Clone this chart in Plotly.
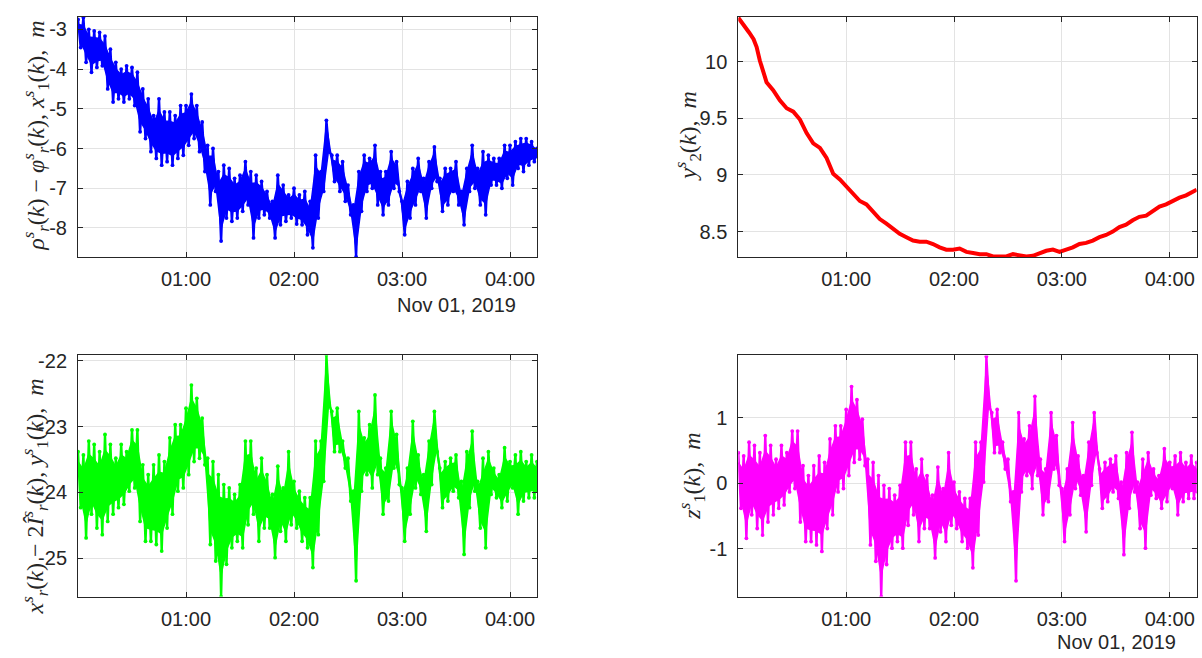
import pandas as pd
import plotly.graph_objects as go

# ---------------- data ----------------
# noisy series: upper / lower excursions read every 3 minutes (lower at +1.5 min)
blue_hi = [-2.75, -2.70, -3.00, -3.04, -3.08, -3.17, -3.50, -3.83, -4.00, -3.92,
           -3.96, -4.08, -4.50, -4.75, -5.17, -4.75, -5.08, -5.08, -5.17, -4.92,
           -4.92, -4.63, -4.92, -5.33, -5.92, -6.00, -6.58, -6.42, -6.50, -6.75,
           -6.67, -6.33, -6.58, -6.67, -6.83, -7.08, -7.33, -6.67, -6.92, -7.17,
           -7.00, -7.17, -7.08, -7.33, -6.17, -6.58, -5.29, -6.17, -6.17, -6.33,
           -6.92, -7.42, -6.58, -6.17, -6.25, -5.92, -6.58, -6.58, -6.08, -6.33,
           -7.33, -6.83, -6.50, -6.25, -6.75, -6.33, -5.96, -6.75, -6.50, -6.50,
           -6.33, -7.08, -6.50, -5.92, -6.50, -6.08, -6.17, -6.25, -6.25, -5.92,
           -5.92, -5.83, -5.75, -5.75, -5.83, -6.00]
blue_lo = [-3.46, -3.83, -4.08, -3.96, -3.92, -4.50, -4.83, -4.75, -4.83, -4.75,
           -4.92, -5.58, -5.75, -6.08, -6.25, -6.42, -6.33, -6.42, -6.25, -6.17,
           -5.92, -5.75, -6.08, -6.58, -7.42, -7.08, -8.33, -7.75, -7.83, -7.75,
           -7.58, -7.42, -8.25, -7.75, -7.67, -7.75, -8.25, -7.92, -7.83, -7.75,
           -7.90, -7.92, -8.17, -8.50, -7.75, -7.08, -6.08, -6.83, -7.08, -7.33,
           -7.67, -8.73, -7.58, -7.08, -7.00, -7.42, -7.67, -7.42, -7.00, -7.08,
           -8.17, -7.75, -7.42, -7.08, -7.75, -7.00, -6.83, -7.58, -7.42, -7.08,
           -7.42, -7.92, -7.08, -7.00, -7.42, -7.67, -6.92, -6.92, -7.00, -6.75,
           -6.92, -6.50, -6.58, -6.42, -6.33, -6.25]

green_hi = [-23.38, -23.43, -23.22, -23.27, -23.38, -23.12, -23.27, -23.48, -23.27, -23.38,
            -23.05, -23.05, -23.58, -23.73, -23.58, -23.43, -23.53, -23.17, -22.97, -22.97,
            -22.72, -22.37, -22.57, -22.87, -23.48, -23.53, -23.73, -23.88, -23.93, -24.03,
            -23.88, -23.22, -23.22, -23.63, -23.48, -23.73, -24.03, -23.60, -23.93, -23.38,
            -23.83, -23.98, -24.08, -24.08, -23.22, -23.22, -21.91, -22.77, -22.72, -23.22,
            -23.48, -23.98, -22.77, -23.17, -22.97, -22.52, -23.48, -23.63, -22.77, -23.12,
            -23.93, -23.63, -22.92, -23.43, -23.73, -23.22, -22.77, -23.63, -23.53, -23.48,
            -23.43, -23.83, -23.38, -23.07, -23.83, -23.48, -23.38, -23.63, -23.73, -23.32,
            -23.53, -23.43, -23.38, -23.53, -23.43, -23.53]
green_lo = [-24.23, -24.69, -24.33, -24.54, -24.64, -24.44, -24.33, -24.23, -24.18, -23.98,
            -23.93, -24.44, -24.74, -24.74, -24.79, -24.89, -24.54, -24.33, -23.98, -23.93,
            -23.73, -23.53, -23.48, -23.58, -24.79, -25.04, -25.58, -25.09, -24.84, -24.74,
            -24.84, -24.49, -24.33, -24.74, -24.54, -24.54, -24.99, -24.59, -24.74, -24.49,
            -24.54, -24.74, -24.84, -25.14, -24.64, -23.83, -22.67, -23.38, -23.38, -23.63,
            -24.13, -25.34, -23.98, -23.73, -23.93, -23.73, -24.33, -24.13, -23.63, -23.88,
            -24.74, -24.33, -23.93, -24.03, -24.59, -23.88, -23.38, -24.23, -24.13, -23.98,
            -24.08, -24.94, -24.23, -23.98, -24.54, -24.84, -24.03, -24.08, -24.23, -24.13,
            -23.93, -24.33, -24.13, -24.08, -24.08, -24.13]

magenta_hi = [0.47, 0.42, 0.63, 0.58, 0.47, 0.73, 0.58, 0.37, 0.58, 0.47,
              0.80, 0.80, 0.27, 0.12, 0.27, 0.42, 0.32, 0.68, 0.88, 0.88,
              1.13, 1.48, 1.28, 0.98, 0.37, 0.32, 0.12, -0.03, -0.08, -0.18,
              -0.03, 0.63, 0.63, 0.22, 0.37, 0.12, -0.18, 0.25, -0.08, 0.47,
              0.02, -0.13, -0.23, -0.23, 0.63, 0.63, 1.94, 1.08, 1.13, 0.63,
              0.37, -0.13, 1.08, 0.68, 0.88, 1.33, 0.37, 0.22, 1.08, 0.73,
              -0.08, 0.22, 0.93, 0.42, 0.12, 0.63, 1.08, 0.22, 0.32, 0.37,
              0.42, 0.02, 0.47, 0.78, 0.02, 0.37, 0.47, 0.22, 0.12, 0.53,
              0.32, 0.42, 0.47, 0.32, 0.42, 0.32]
magenta_lo = [-0.38, -0.84, -0.48, -0.69, -0.79, -0.59, -0.48, -0.38, -0.33, -0.13,
              -0.08, -0.59, -0.89, -0.89, -0.94, -1.04, -0.69, -0.48, -0.13, -0.08,
              0.12, 0.32, 0.37, 0.27, -0.94, -1.19, -1.73, -1.24, -0.99, -0.89,
              -0.99, -0.64, -0.48, -0.89, -0.69, -0.69, -1.14, -0.74, -0.89, -0.64,
              -0.69, -0.89, -0.99, -1.29, -0.79, 0.02, 1.18, 0.47, 0.47, 0.22,
              -0.28, -1.49, -0.13, 0.12, -0.08, 0.12, -0.48, -0.28, 0.22, -0.03,
              -0.89, -0.48, -0.08, -0.18, -0.74, -0.03, 0.47, -0.38, -0.28, -0.13,
              -0.23, -1.09, -0.38, -0.13, -0.69, -0.99, -0.18, -0.23, -0.38, -0.28,
              -0.08, -0.48, -0.28, -0.23, -0.23, -0.28]

red_minutes = [0, 3, 6, 8.5, 10.2, 12, 13.9, 15.7, 19.4, 23.1, 26.9, 30.6, 34.3, 38,
               41.7, 45.4, 49.1, 52.8, 56.5, 60.2, 63.9, 67.6, 71.3, 75, 78.7, 82.4,
               86.1, 89.8, 93.5, 97.2, 100.9, 104.6, 108.3, 112, 115.7, 119.4, 123.1,
               126.9, 130.6, 134.3, 138, 141.7, 145.4, 149.1, 152.8, 156.5, 160.2,
               163.9, 167.6, 171.3, 175, 178.7, 182.4, 186.1, 189.8, 193.5, 197.2,
               200.9, 204.6, 208.3, 212, 215.7, 219.4, 223.1, 226.9, 230.6, 234.3,
               238, 241.7, 245.4, 249.1, 252.8, 255]
red_vals = [10.39, 10.33, 10.26, 10.20, 10.13, 10.01, 9.91, 9.82, 9.75, 9.66, 9.59,
            9.56, 9.49, 9.37, 9.28, 9.24, 9.15, 9.01, 8.96, 8.90, 8.83, 8.77, 8.74,
            8.67, 8.61, 8.57, 8.52, 8.48, 8.45, 8.42, 8.41, 8.41, 8.39, 8.36, 8.34,
            8.34, 8.35, 8.32, 8.31, 8.30, 8.30, 8.28, 8.28, 8.28, 8.30, 8.29, 8.28,
            8.285, 8.31, 8.33, 8.34, 8.32, 8.34, 8.36, 8.39, 8.40, 8.42, 8.45, 8.47,
            8.50, 8.54, 8.56, 8.60, 8.63, 8.64, 8.68, 8.72, 8.74, 8.77, 8.80, 8.82,
            8.85, 8.87]

assert len(red_minutes) == len(red_vals)
for a, b in [(blue_hi, blue_lo), (green_hi, green_lo), (magenta_hi, magenta_lo)]:
    assert len(a) == len(b) == 86

START = pd.Timestamp("2019-11-01 00:00:00")
X_RANGE = [START, START + pd.Timedelta(minutes=255)]
tick_vals = [START + pd.Timedelta(hours=h) for h in (1, 2, 3, 4)]
tick_text = ["01:00", "02:00", "03:00", "04:00"]
STEP = 3.0
CORE = 0.32   # share of each excursion drawn as the dense core of the dot cloud


def stamps(n, shift):
    return [START + pd.Timedelta(minutes=i * STEP + shift) for i in range(n)]


# ---------------- layout geometry (figure fills the whole 1202x658 page) ----------------
W, H = 1202, 658
def xd(a, b):
    return [a / W, b / W]
def yd(top, bot):
    return [1 - bot / H, 1 - top / H]

XL, XR = xd(78, 537), xd(738.3, 1196.7)
YT, YB = yd(10.7, 253.3), yd(352.7, 596)

AX = "#262626"
GRID = "#e3e3e3"
TICKFONT = dict(family="Liberation Sans, Arial, sans-serif", size=20, color=AX)

fig = go.Figure()

panels = [
    dict(n="", xdom=XL, ydom=YT, rng=[-8.73, -2.68], yt=[-8, -7, -6, -5, -4, -3], col="#0000ff"),
    dict(n="2", xdom=XR, ydom=YT, rng=[8.275, 10.40], yt=[8.5, 9, 9.5, 10], col="#ff0000"),
    dict(n="3", xdom=XL, ydom=YB, rng=[-25.58, -21.92], yt=[-25, -24, -23, -22], col="#00ff00"),
    dict(n="4", xdom=XR, ydom=YB, rng=[-1.73, 1.955], yt=[-1, 0, 1], col="#ff00ff"),
]
series = [(blue_hi, blue_lo), None, (green_hi, green_lo), (magenta_hi, magenta_lo)]

for p, s in zip(panels, series):
    xa, ya = "x" + p["n"], "y" + p["n"]
    c = p["col"]
    if s is None:
        t = [START + pd.Timedelta(minutes=m) for m in red_minutes]
        fig.add_trace(go.Scatter(x=t, y=red_vals, mode="lines", xaxis=xa, yaxis=ya,
                                 line=dict(color=c, width=4), showlegend=False,
                                 hoverinfo="skip"))
    else:
        hi, lo = s
        t_hi, t_lo = stamps(len(hi), 0.0), stamps(len(lo), STEP / 2)
        # dense core of the dot cloud around the middle of each excursion pair
        core_top = [(h + l) / 2 + CORE * (h - l) for h, l in zip(hi, lo)]
        core_bot = [(h + l) / 2 - CORE * (h - l) for h, l in zip(hi, lo)]
        fig.add_trace(go.Scatter(x=t_hi + t_lo[::-1], y=core_top + core_bot[::-1], mode="lines",
                                 fill="toself", fillcolor=c, xaxis=xa, yaxis=ya,
                                 line=dict(color=c, width=1.5), showlegend=False,
                                 hoverinfo="skip"))
        # the individual excursions as dots joined in time order
        tz, vz = [], []
        for a, b, h, l in zip(t_hi, t_lo, hi, lo):
            tz += [a, b]
            vz += [h, l]
        fig.add_trace(go.Scatter(x=tz, y=vz, mode="lines+markers", xaxis=xa, yaxis=ya,
                                 line=dict(color=c, width=2.4),
                                 marker=dict(color=c, size=3.8),
                                 showlegend=False, hoverinfo="skip"))
    common = dict(showline=True, linecolor=AX, linewidth=1, mirror="allticks",
                  ticks="inside", ticklen=5, tickwidth=1, tickcolor=AX,
                  showgrid=True, gridcolor=GRID, gridwidth=1, zeroline=False,
                  tickfont=TICKFONT)
    fig.layout["xaxis" + p["n"]] = dict(domain=p["xdom"], anchor=ya, type="date", range=X_RANGE,
                                        tickvals=tick_vals, ticktext=tick_text,
                                        ticklabelstandoff=4, **common)
    fig.layout["yaxis" + p["n"]] = dict(domain=p["ydom"], anchor=xa, range=p["rng"],
                                        tickvals=p["yt"], ticktext=["%g" % v for v in p["yt"]],
                                        ticklabelstandoff=6, **common)

NB = "\u00a0"
titles = [
    ("<i>ρ</i><sup><i>s</i></sup><sub><i>r</i></sub>(<i>k</i>) − <i>φ</i><sup><i>s</i></sup><sub><i>r</i></sub>(<i>k</i>), "
     "<i>x</i><sup><i>s</i></sup><sub>1</sub>(<i>k</i>)," + NB + NB + "<i>m</i>", 36, 131),
    ("<i>y</i><sup><i>s</i></sup><sub>2</sub>(<i>k</i>)," + NB + NB + "<i>m</i>", 688, 131),
    ("<i>x</i><sup><i>s</i></sup><sub><i>r</i></sub>(<i>k</i>) − 2<i>Î</i><sup><i>s</i></sup><sub><i>r</i></sub>(<i>k</i>), "
     "<i>y</i><sup><i>s</i></sup><sub>1</sub>(<i>k</i>)," + NB + NB + "<i>m</i>", 35, 495),
    ("<i>z</i><sup><i>s</i></sup><sub>1</sub>(<i>k</i>)," + NB + NB + "<i>m</i>", 692, 475),
]
ann = []
for txt, sx, sy in titles:
    ann.append(dict(text=txt, x=sx / W, y=1 - sy / H, xref="paper", yref="paper",
                    xanchor="center", yanchor="middle", textangle=-90, showarrow=False,
                    font=dict(family="Liberation Serif, DejaVu Serif, serif", size=24, color=AX)))
for sx, sy in [(518, 301.7), (1178.3, 641.7)]:
    ann.append(dict(text="Nov 01, 2019", x=sx / W, y=1 - sy / H, xref="paper", yref="paper",
                    xanchor="right", yanchor="middle", showarrow=False, font=TICKFONT))

fig.update_layout(width=W, height=H, margin=dict(l=0, r=0, t=0, b=0),
                  paper_bgcolor="white", plot_bgcolor="white", annotations=ann)

# remove the default 8px page margin so the figure sits at the window origin
fig.write_html("out.html", config={"displayModeBar": False},
               post_script="document.body.style.margin='0';document.body.style.overflow='hidden';")
